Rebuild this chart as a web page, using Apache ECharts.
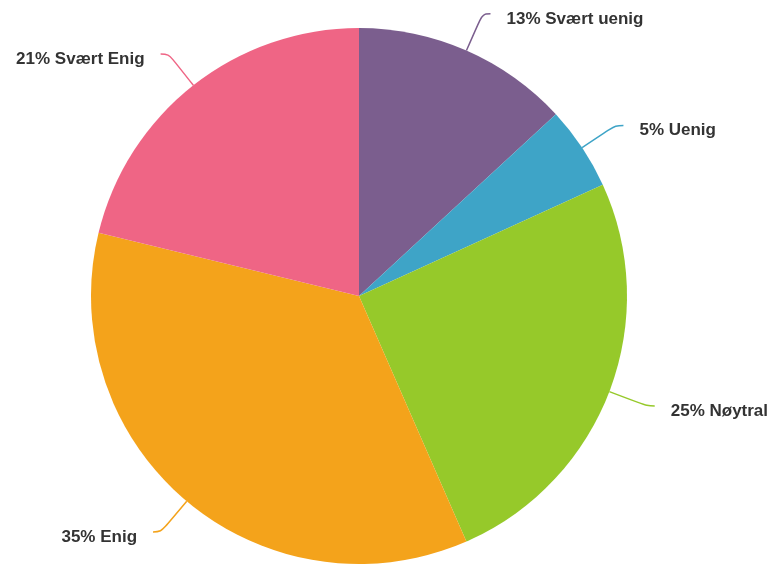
<!DOCTYPE html>
<html>
<head>
<meta charset="utf-8">
<script src="https://cdn.jsdelivr.net/npm/echarts@6/dist/echarts.min.js"></script>
<style>html,body{margin:0;padding:0;background:#fff;}#c{width:770px;height:565px;}</style>
</head>
<body>
<div id="c"></div>
<script>
const categories = ["Svært uenig", "Uenig", "Nøytral", "Enig", "Svært Enig"];
const values = [13, 5, 25, 35, 21];
const colors = ["#7b5e8e", "#3ea4c7", "#96c92a", "#f4a31b", "#ef6585"];

const chart = echarts.init(document.getElementById('c'));
chart.setOption({
  animation: false,
  backgroundColor: '#ffffff',
  series: [{
    type: 'pie',
    center: [359, 296],
    radius: 268,
    startAngle: 90,
    clockwise: true,
    avoidLabelOverlap: false,
    data: categories.map((c, i) => ({ name: c, value: values[i], itemStyle: { color: colors[i] } })),
    label: {
      show: true,
      formatter: p => p.value + '% ' + p.name,
      fontFamily: 'Liberation Sans, Arial, sans-serif',
      fontWeight: 'bold',
      fontSize: 17,
      color: '#333333',
      distanceToLabelLine: 16
    },
    labelLayout: { dy: 5 },
    labelLine: {
      show: true,
      length: 40,
      length2: 8,
      smooth: 0.4,
      lineStyle: { width: 1.5 }
    },
    itemStyle: { borderWidth: 0 }
  }]
});
</script>
</body>
</html>
